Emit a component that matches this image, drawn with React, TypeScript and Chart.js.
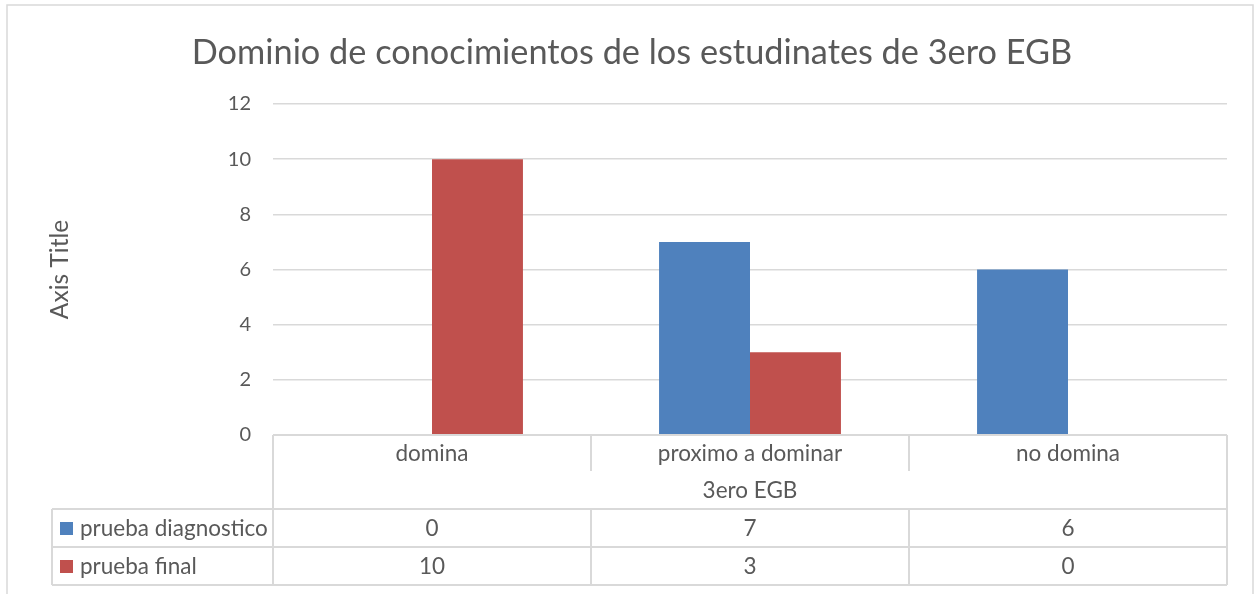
import React, { useEffect, useRef } from 'react';
import { Chart, registerables } from 'chart.js';

Chart.register(...registerables);

const chartTitle = 'Dominio de conocimientos de los estudinates de 3ero EGB';
const axisTitle = 'Axis Title';
const groupLabel = '3ero EGB';
const categories = ['domina', 'proximo a dominar', 'no domina'];
const seriesNames = ['prueba diagnostico', 'prueba final'];
const seriesColors = ['#4F81BD', '#C0504D'];
const pruebaDiagnostico = [0, 7, 6];
const pruebaFinal = [10, 3, 0];
const yMin = 0;
const yMax = 12;
const yStep = 2;

const TEXT = '#595959';
const LINE = '#D9D9D9';
const FONT = 'Lato, "Open Sans", sans-serif';

const tablePlugin = {
  id: 'dataTable',
  beforeDraw(chart: any) {
    const { ctx } = chart;
    ctx.save();
    ctx.fillStyle = '#ffffff';
    ctx.fillRect(0, 0, chart.width, chart.height);
    ctx.strokeStyle = LINE;
    ctx.lineWidth = 1.5;
    ctx.strokeRect(7, 5, chart.width - 10, chart.height + 20);
    ctx.restore();
  },
  afterDraw(chart: any) {
    const { ctx, chartArea } = chart;
    const xs = chart.scales.x;
    const n = categories.length;
    const step = xs.getPixelForValue(1) - xs.getPixelForValue(0);
    const edges: number[] = categories.map((_, i) => xs.getPixelForValue(i) - step / 2);
    edges.push(xs.getPixelForValue(n - 1) + step / 2);
    const left = edges[0];
    const right = edges[n];
    const top = chartArea.bottom;
    const r1 = top + 36;
    const r2 = top + 74;
    const r3 = top + 112;
    const r4 = top + 150;
    const legLeft = 52;

    ctx.save();
    ctx.strokeStyle = LINE;
    ctx.lineWidth = 2;
    const line = (x1: number, y1: number, x2: number, y2: number) => {
      ctx.beginPath();
      ctx.moveTo(x1, y1);
      ctx.lineTo(x2, y2);
      ctx.stroke();
    };
    line(left, top, right, top);
    line(legLeft, r2, right, r2);
    line(legLeft, r3, right, r3);
    line(legLeft, r4, right, r4);
    line(left, top, left, r4);
    line(right, top, right, r4);
    line(legLeft, r2, legLeft, r4);
    for (let i = 1; i < n; i++) {
      line(edges[i], top, edges[i], r1);
      line(edges[i], r2, edges[i], r4);
    }

    ctx.fillStyle = TEXT;
    ctx.font = `22.5px ${FONT}`;
    ctx.textAlign = 'center';
    ctx.textBaseline = 'middle';
    categories.forEach((c, i) => {
      ctx.fillText(c, xs.getPixelForValue(i), (top + r1) / 2 + 1);
    });
    ctx.fillText(groupLabel, (left + right) / 2, (r1 + r2) / 2 + 1);
    const rows = [pruebaDiagnostico, pruebaFinal];
    const rowTops = [r2, r3];
    rows.forEach((vals, ri) => {
      const cy = rowTops[ri] + 19;
      vals.forEach((v, i) => {
        ctx.fillStyle = TEXT;
        ctx.textAlign = 'center';
        ctx.fillText(String(v), xs.getPixelForValue(i), cy + 1);
      });
      ctx.fillStyle = seriesColors[ri];
      ctx.fillRect(60, cy - 6, 13, 13);
      ctx.fillStyle = TEXT;
      ctx.textAlign = 'left';
      ctx.fillText(seriesNames[ri], 80, cy + 1);
    });
    ctx.restore();
  },
};

export default function App() {
  const ref = useRef<HTMLCanvasElement | null>(null);
  useEffect(() => {
    if (!ref.current) return;
    const chart = new Chart(ref.current, {
      type: 'bar',
      data: {
        labels: categories,
        datasets: [
          { label: seriesNames[0], data: pruebaDiagnostico, backgroundColor: seriesColors[0], borderWidth: 0 },
          { label: seriesNames[1], data: pruebaFinal, backgroundColor: seriesColors[1], borderWidth: 0 },
        ],
      },
      options: {
        responsive: false,
        animation: false,
        events: [],
        layout: { padding: { left: 37, right: 29, top: 0, bottom: 159 } },
        datasets: { bar: { categoryPercentage: 0.572, barPercentage: 1 } },
        plugins: {
          legend: { display: false },
          tooltip: { enabled: false },
          title: {
            display: true,
            text: chartTitle,
            color: TEXT,
            font: { family: FONT, size: 34.3, weight: 'normal', lineHeight: 1.2 },
            padding: { top: 32.4, bottom: 30.4 },
          },
        },
        scales: {
          x: { display: false, offset: true },
          y: {
            min: yMin,
            max: yMax,
            ticks: { stepSize: yStep, color: TEXT, font: { family: FONT, size: 20 }, padding: 22 },
            grid: { color: LINE, lineWidth: 1.5, drawTicks: false },
            border: { display: false },
            title: {
              display: true,
              text: axisTitle,
              color: TEXT,
              font: { family: FONT, size: 24.5 },
              padding: { top: 8, bottom: 0 },
            },
            afterFit(scale: any) {
              scale.width = 236;
            },
          },
        },
      },
      plugins: [tablePlugin],
    });
    return () => chart.destroy();
  }, []);
  return (
    <div style={{ position: 'fixed', left: 0, top: 0, width: 1256, height: 594 }}>
      <canvas ref={ref} width={1256} height={594} style={{ width: 1256, height: 594 }} />
    </div>
  );
}
